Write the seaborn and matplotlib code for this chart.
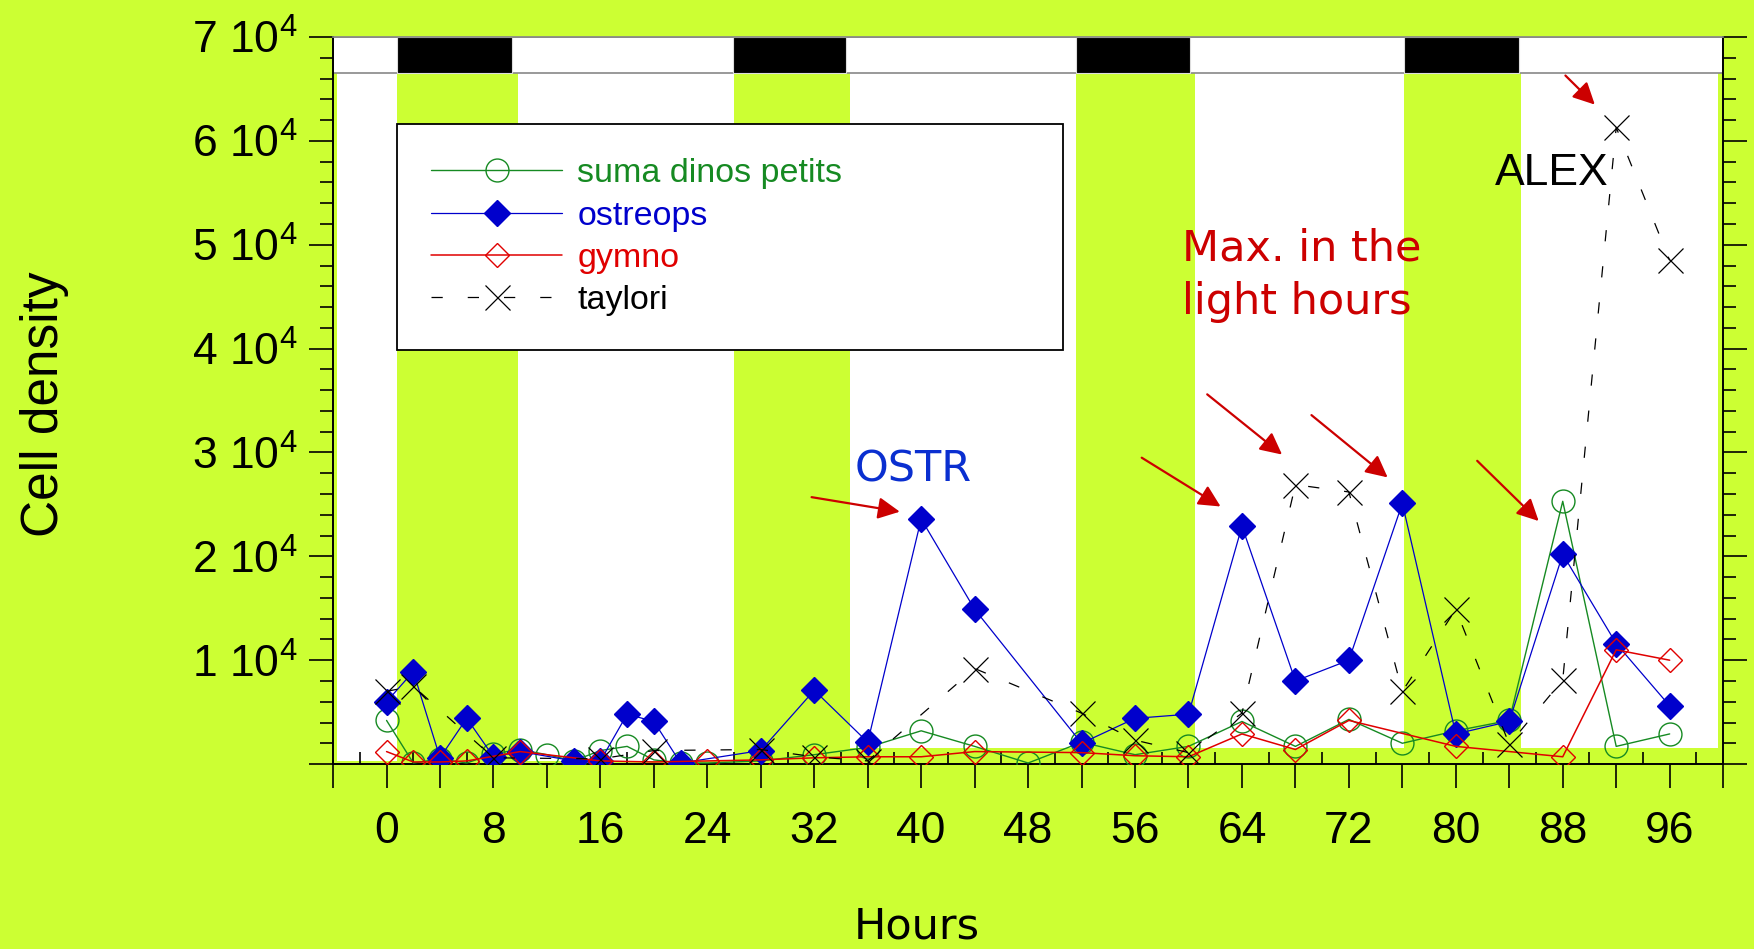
import matplotlib
matplotlib.use("Agg")
import matplotlib.pyplot as plt
import seaborn as sns
from matplotlib.patches import Rectangle
from matplotlib.ticker import FixedLocator, MultipleLocator

# 1. Données (heures depuis le début, cellules / L)
SUMA_H = [0, 2, 4, 6, 8, 10, 12, 14, 16, 18, 20, 22, 24, 28, 32, 36, 40, 44, 48,
          52, 56, 60, 64, 68, 72, 76, 80, 84, 88, 92, 96]
SUMA = [4200, 100, 500, 100, 1000, 1400, 900, 300, 1300, 1700, 400, 100, 100, 300,
        900, 1600, 3200, 1700, 100, 2100, 900, 1700, 4100, 1700, 4300, 2000, 3200,
        4200, 25300, 1700, 2900]

OSTR_H = [0, 2, 4, 6, 8, 10, 14, 16, 18, 20, 22, 28, 32, 36, 40, 44, 52, 56, 60,
          64, 68, 72, 76, 80, 84, 88, 92, 96]
OSTR = [6000, 8900, 600, 4400, 700, 1200, 300, 300, 4800, 4100, 100, 1300, 7100,
        2100, 23600, 14900, 2000, 4400, 4800, 22900, 8000, 10000, 25100, 2900, 4100,
        20200, 11600, 5600]

GYMNO_H = [0, 2, 4, 6, 10, 16, 20, 24, 28, 32, 36, 40, 44, 52, 56, 60, 64, 68, 72,
           80, 88, 92, 96]
GYMNO = [1200, 200, 200, 300, 1200, 300, 200, 300, 400, 600, 700, 700, 1200, 1100,
         800, 700, 2900, 1400, 4200, 1700, 700, 11000, 10000]

TAYLORI_H = [0, 2, 8, 16, 20, 28, 32, 36, 44, 52, 56, 60, 64, 68, 72, 76, 80, 84,
             88, 92, 96]
TAYLORI = [7000, 7500, 600, 500, 1300, 1400, 700, 300, 9200, 4900, 2300, 1100, 4900,
           26900, 26200, 7000, 14900, 1900, 8100, 61300, 48500]

LABELS = ["suma dinos petits", "ostreops", "gymno", "taylori"]

# périodes d'obscurité (barre noire du haut) et bandes vertes
DARK = [(0.8, 9.4), (25.9, 34.4), (51.6, 60.1), (76.1, 84.7)]
LIGHT = [(-3.7, 0.8), (9.8, 26.0), (34.7, 51.6), (60.5, 76.1), (84.9, 99.6)]
LIGHT_BASE = [250, 250, 1550, 1550, 1550]
BAND_LOW, BAND_HIGH = 66500, 70000

XLABELS = list(range(0, 97, 8))
YLABELS = ["", "1 10$^{4}$", "2 10$^{4}$", "3 10$^{4}$", "4 10$^{4}$",
           "5 10$^{4}$", "6 10$^{4}$", "7 10$^{4}$"]

# flèches (queue, tête) en coordonnées données
ARROWS = [((31.8, 25700), (38.4, 24300)),
          ((56.5, 29500), (62.4, 24800)),
          ((61.4, 35600), (67.0, 29800)),
          ((69.2, 33600), (74.9, 27600)),
          ((81.6, 29200), (86.2, 23400)),
          ((88.2, 66300), (90.4, 63500))]

BG = "#CCFF33"
GREEN = "#168A22"
BLUE = "#0000CC"
RED = "#E00000"
DARK_RED = "#CC0000"

sns.set_theme(style="white")
plt.rcParams["font.family"] = ["Liberation Sans", "DejaVu Sans"]
plt.rcParams["mathtext.fontset"] = "custom"
plt.rcParams["mathtext.rm"] = "Liberation Sans"
plt.rcParams["mathtext.it"] = "Liberation Sans:italic"

fig = plt.figure(figsize=(17.54, 9.49), dpi=100, facecolor=BG)
ax = fig.add_axes([0.1899, 0.1949, 0.7925, 0.766])
ax.set_facecolor(BG)

# 2. Fond : heures de lumière en blanc, barre jour/nuit en haut
for (a, b), base in zip(LIGHT, LIGHT_BASE):
    ax.add_patch(Rectangle((a, base), b - a, BAND_LOW - base,
                           facecolor="white", edgecolor="none", zorder=0.5))
ax.add_patch(Rectangle((-4, BAND_LOW), 104, BAND_HIGH - BAND_LOW,
                       facecolor="white", edgecolor="#888888", lw=1.2, zorder=0.6))
for a, b in DARK:
    ax.add_patch(Rectangle((a, BAND_LOW), b - a, BAND_HIGH - BAND_LOW,
                           facecolor="black", edgecolor="#dddddd", lw=0.8, zorder=0.7))

# 3. Séries
sns.lineplot(x=SUMA_H, y=SUMA, ax=ax, color=GREEN, lw=1.0, marker="o",
             markersize=16.5, markerfacecolor="none", markeredgecolor=GREEN,
             markeredgewidth=1.0, errorbar=None, label=LABELS[0], zorder=3)
sns.lineplot(x=OSTR_H, y=OSTR, ax=ax, color=BLUE, lw=0.9, marker="D",
             markersize=13, markerfacecolor=BLUE, markeredgecolor=BLUE,
             markeredgewidth=1.0, errorbar=None, label=LABELS[1], zorder=4)
sns.lineplot(x=GYMNO_H, y=GYMNO, ax=ax, color=RED, lw=1.1, marker="D",
             markersize=12.3, markerfacecolor="none", markeredgecolor=RED,
             markeredgewidth=1.0, errorbar=None, label=LABELS[2], zorder=5)
sns.lineplot(x=TAYLORI_H, y=TAYLORI, ax=ax, color="black", lw=0.9, marker="x",
             markersize=18, markeredgecolor="black", markeredgewidth=0.9,
             linestyle=(0, (9, 20)), errorbar=None, label=LABELS[3], zorder=6)

# 4. Axes
ax.set_xlim(-4, 100)
ax.set_ylim(0, 70000)
xt = list(range(-4, 101, 4))
ax.set_xticks(xt)
ax.set_xticklabels([str(v) if v in XLABELS else "" for v in xt])
ax.xaxis.set_minor_locator(FixedLocator(list(range(-2, 100, 4))))
ax.set_yticks(range(0, 70001, 10000))
ax.set_yticklabels(YLABELS)
ax.yaxis.set_minor_locator(MultipleLocator(2000))

ax.tick_params(axis="x", which="major", direction="out", length=17.5, width=1.2,
               pad=16, labelsize=32, bottom=True, colors="black")
ax.tick_params(axis="x", which="minor", direction="in", length=8.8, width=1.2,
               bottom=True, colors="black")
ax.tick_params(axis="y", which="major", direction="out", length=17.5, width=1.2,
               pad=8, labelsize=32, left=True, right=True, colors="black")
ax.tick_params(axis="y", which="minor", direction="out", length=9.5, width=1.2,
               left=True, right=True, colors="black")

for side in ["left", "right", "bottom"]:
    ax.spines[side].set_color("black")
    ax.spines[side].set_linewidth(1.4)
ax.spines["top"].set_color("#888888")

ax.set_xlabel("Hours", fontsize=31, family=["DejaVu Sans"], color="black")
ax.xaxis.set_label_coords(0.42, -0.195)
ax.set_ylabel("Cell density", fontsize=37, color="black")
ax.yaxis.set_label_coords(-0.19, 0.495)

# 5. Annotations
ax.text(35.0, 28400, "OSTR", fontsize=31, family=["DejaVu Sans"], color="#0A2FD0",
        ha="left", va="center", zorder=7)
ax.text(59.5, 51700, "Max. in the\nlight hours", fontsize=31, family=["DejaVu Sans"],
        color=DARK_RED, ha="left", va="top", linespacing=1.37, zorder=7)
ax.text(82.9, 55800, "ALEX", fontsize=32, color="black", ha="left", va="baseline",
        zorder=7)
for tail, head in ARROWS:
    ax.annotate("", xy=head, xytext=tail,
                arrowprops=dict(arrowstyle="-|>,head_length=0.6,head_width=0.3",
                                color=DARK_RED, lw=1.6, shrinkA=0, shrinkB=0,
                                mutation_scale=22), zorder=7)

# 6. Légende
leg = ax.legend(loc="upper left", bbox_to_anchor=(0.046, 0.569, 0.479, 0.311),
                mode="expand", borderaxespad=0, fancybox=False, framealpha=1,
                facecolor="white", edgecolor="black", prop={"size": 24.5},
                handlelength=3.85, handletextpad=0.45, labelspacing=0.33,
                borderpad=1.0)
leg.get_frame().set_linewidth(1.3)
leg.set_zorder(10)
for txt, col in zip(leg.get_texts(), [GREEN, BLUE, RED, "black"]):
    txt.set_color(col)

fig.savefig("out.png", dpi=100, facecolor=BG)
